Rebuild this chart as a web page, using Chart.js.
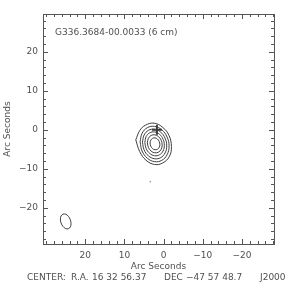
<!DOCTYPE html>
<html>
<head>
<meta charset="utf-8">
<script src="https://cdn.jsdelivr.net/npm/chart.js@4.4.1/dist/chart.umd.min.js"></script>
<style>
body { margin: 0; background: #fff; }
canvas { display: block; }
</style>
</head>
<body>
<canvas id="map" width="288" height="288"></canvas>
<script>
// axis ranges (arc seconds), x runs right-to-left
const xRange = [-28.2, 30.8];
const yRange = [-29.3, 29.7];
const majorTicks = [-20, -10, 0, 10, 20];

// contour levels, outermost first, as [x, y] points
const contour1 = [[7.1,-2.6],[6.1,-0.2],[4.6,1.2],[2.4,1.7],[0.2,0.6],[-1.4,-1.5],[-2.0,-4.3],[-1.5,-6.8],[0.2,-8.5],[2.3,-8.9],[4.5,-7.8],[6.1,-5.6]];
const contour2 = [[6.0,-3.1],[5.5,-0.91],[4.15,0.54],[2.3,0.87],[0.45,-0.01],[-0.9,-1.87],[-1.4,-4.2],[-0.9,-6.39],[0.45,-7.84],[2.3,-8.17],[4.15,-7.29],[5.5,-5.43]];
const contour3 = [[5.4,-3.19],[4.98,-1.35],[3.85,-0.14],[2.3,0.13],[0.75,-0.6],[-0.38,-2.16],[-0.8,-4.11],[-0.38,-5.95],[0.75,-7.16],[2.3,-7.43],[3.85,-6.7],[4.98,-5.14]];
const contour4 = [[4.79,-3.23],[4.46,-1.75],[3.55,-0.78],[2.3,-0.55],[1.05,-1.15],[0.14,-2.4],[-0.19,-3.97],[0.14,-5.45],[1.05,-6.42],[2.3,-6.65],[3.55,-6.05],[4.46,-4.8]];
const contour5 = [[4.14,-3.32],[3.89,-2.2],[3.2,-1.46],[2.25,-1.29],[1.3,-1.74],[0.61,-2.69],[0.36,-3.88],[0.61,-5.0],[1.3,-5.74],[2.25,-5.91],[3.2,-5.46],[3.89,-4.51]];
const contour6 = [[3.45,-3.41],[3.28,-2.67],[2.82,-2.19],[2.2,-2.08],[1.58,-2.37],[1.12,-3.0],[0.95,-3.79],[1.12,-4.53],[1.58,-5.01],[2.2,-5.12],[2.82,-4.83],[3.28,-4.2]];
// tiny speck south of the source
const speck = [[3.4,-13.3]];
// synthesized beam, lower left
const beam = [[25.68,-21.62],[26.18,-22.09],[26.36,-22.93],[26.18,-23.93],[25.68,-24.81],[25.0,-25.34],[24.32,-25.38],[23.82,-24.91],[23.64,-24.07],[23.83,-23.07],[24.32,-22.19],[25.0,-21.66]];
// source position marker
const marker = [[1.7, 0.0]];

const fontFam = "'DejaVu Sans', 'Liberation Sans', sans-serif";
const ink = '#505050';
const lineInk = '#3c3c3c';

function closed(pts) {
	const d = pts.map(p => ({x: p[0], y: p[1]}));
	d.push({x: pts[0][0], y: pts[0][1]});
	return d;
}

function ring(pts) {
	return {
		data: closed(pts),
		showLine: true,
		borderColor: lineInk,
		borderWidth: 1,
		pointRadius: 0,
		tension: 0.4,
		fill: false
	};
}

function fmt(v) {
	if (!majorTicks.includes(v)) return '';
	return v < 0 ? '\u2212' + Math.abs(v) : String(v);
}

// inward ticks, frame and the text lines of the map
const framePlugin = {
	id: 'frame',
	afterDraw(chart) {
		const ctx = chart.ctx;
		const a = chart.chartArea;
		const xs = chart.scales.x, ys = chart.scales.y;
		ctx.save();
		ctx.strokeStyle = '#555';
		ctx.lineWidth = 1;
		ctx.strokeRect(Math.round(a.left) + 0.5, Math.round(a.top) + 0.5,
			Math.round(a.right - a.left), Math.round(a.bottom - a.top));
		ctx.beginPath();
		xs.ticks.forEach(t => {
			const px = Math.round(xs.getPixelForValue(t.value)) + 0.5;
			const len = majorTicks.includes(t.value) ? 5 : 3;
			ctx.moveTo(px, a.bottom); ctx.lineTo(px, a.bottom - len);
			ctx.moveTo(px, a.top); ctx.lineTo(px, a.top + len);
		});
		ys.ticks.forEach(t => {
			const py = Math.round(ys.getPixelForValue(t.value)) + 0.5;
			const len = majorTicks.includes(t.value) ? 5 : 3;
			ctx.moveTo(a.left, py); ctx.lineTo(a.left + len, py);
			ctx.moveTo(a.right, py); ctx.lineTo(a.right - len, py);
		});
		ctx.stroke();

		ctx.fillStyle = ink;
		ctx.font = '9px ' + fontFam;
		ctx.textBaseline = 'middle';
		ctx.textAlign = 'left';
		ctx.fillText('G336.3684-00.0033 (6 cm)', a.left + 12, a.top + 19);
		ctx.fillText('CENTER:', 27, 278);
		ctx.fillText('R.A.', 71, 278);
		ctx.fillText('16 32 56.37', 92, 278);
		ctx.fillText('DEC', 164, 278);
		ctx.fillText('\u221247 57 48.7', 186, 278);
		ctx.fillText('J2000', 260, 278);
		ctx.restore();
	}
};

new Chart(document.getElementById('map'), {
	type: 'scatter',
	data: {
		datasets: [
			ring(contour1), ring(contour2), ring(contour3),
			ring(contour4), ring(contour5), ring(contour6),
			ring(beam),
			{data: closed(speck).slice(0, 1), pointRadius: 0.8, pointBackgroundColor: '#999', pointBorderWidth: 0},
			{data: closed(marker).slice(0, 1), pointStyle: 'cross', pointRadius: 5, pointBorderColor: '#3c3c3c', pointBorderWidth: 2}
		]
	},
	options: {
		responsive: false,
		animation: false,
		layout: {padding: {top: 14, right: 14}},
		plugins: {legend: {display: false}, tooltip: {enabled: false}},
		scales: {
			x: {
				type: 'linear',
				reverse: true,
				min: xRange[0],
				max: xRange[1],
				grid: {display: false, drawTicks: false},
				border: {display: false},
				afterFit(s) { s.height = 44; },
				ticks: {
					stepSize: 2, includeBounds: false, autoSkip: false, maxRotation: 0,
					padding: 6, color: ink, font: {family: fontFam, size: 9},
					callback: fmt
				},
				title: {
					display: true, text: 'Arc Seconds', color: ink,
					font: {family: fontFam, size: 9}, padding: {top: 0, bottom: 16}
				}
			},
			y: {
				type: 'linear',
				min: yRange[0],
				max: yRange[1],
				grid: {display: false, drawTicks: false},
				border: {display: false},
				afterFit(s) { s.width = 43; },
				ticks: {
					stepSize: 2, includeBounds: false, autoSkip: false,
					padding: 5, color: ink, font: {family: fontFam, size: 9},
					callback: fmt
				},
				title: {
					display: true, text: 'Arc Seconds', color: ink,
					font: {family: fontFam, size: 9}, padding: {top: 2, bottom: 0}
				}
			}
		}
	},
	plugins: [framePlugin]
});
</script>
</body>
</html>
